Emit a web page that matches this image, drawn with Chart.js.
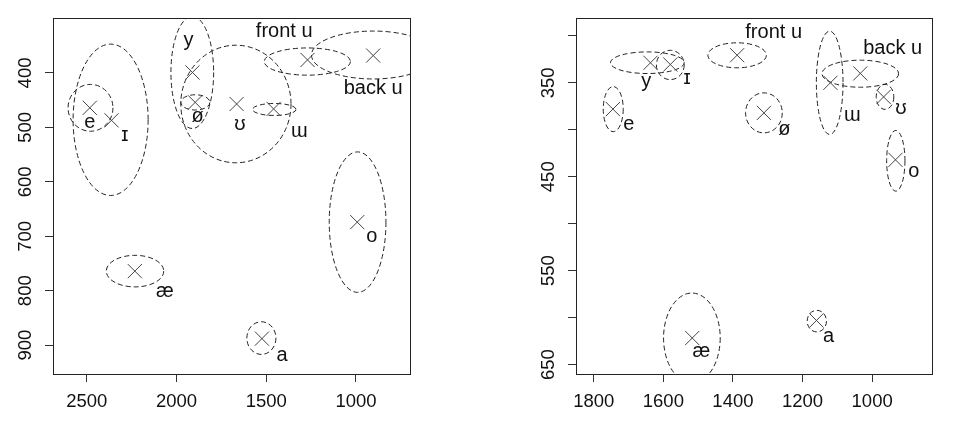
<!DOCTYPE html>
<html><head><meta charset="utf-8">
<script src="https://cdn.jsdelivr.net/npm/chart.js@4.4.1/dist/chart.umd.min.js"></script>
<style>
html,body{margin:0;padding:0;background:#fff;}
#wrap{display:flex;width:960px;height:424px;}
canvas{display:block;}
</style></head><body>
<div id="wrap"><canvas id="links" width="480" height="424"></canvas><canvas id="rechts" width="480" height="424"></canvas></div>
<script>
const vokale = ['e', 'ɪ', 'y', 'ø', 'ʊ', 'ɯ', 'front u', 'back u', 'o', 'æ', 'a'];

// linkes Diagramm: F2 (x), F1 (y)
const linksF2 = [2483, 2362, 1911, 1896, 1665, 1459, 1270, 904, 993, 2232, 1524];
const linksF1 = [464, 487, 399, 454, 457, 466, 376, 368, 674, 764, 888];
const linksEllF2 = [2479, 2367, 1912, 1895, 1669, 1455, 1271, 904, 991, 2231, 1527];
const linksEllF1 = [464, 486, 399, 454, 457, 467, 379, 367, 674, 764, 887];
const linksEllF2Halb = [125, 209, 119, 81, 307, 121, 240, 344, 158, 160, 81];
const linksEllF1Halb = [43, 139, 103, 14, 108, 11, 25, 44, 129, 29, 30];
const linksTextF2 = [2483, 2288, 1933, 1883, 1646, 1316, 1400, 904, 912, 2065, 1412];
const linksTextF1 = [492, 517, 342, 481, 497, 510, 325, 431, 702, 804, 920];
const linksXTicks = [2500, 2000, 1500, 1000];
const linksYTicks = [400, 500, 600, 700, 800, 900];
const linksYLabels = [400, 500, 600, 700, 800, 900];

// rechtes Diagramm
const rechtsF2 = [1745, 1580, 1637, 1311, 967, 1120, 1388, 1034, 933, 1517, 1160];
const rechtsF1 = [378, 330.5, 328.7, 382, 365, 350, 320.6, 340, 432, 621.7, 603];
const rechtsEllF2 = [1744, 1580, 1646, 1311, 963, 1122, 1388, 1034, 932, 1518, 1159];
const rechtsEllF1 = [378, 331, 328.6, 382, 365, 350, 320.7, 340.3, 433, 621.7, 603.7];
const rechtsEllF2Halb = [28.7, 40, 106, 52.7, 25.3, 38.3, 84, 110, 26.3, 81.4, 27.7];
const rechtsEllF1Halb = [24, 15.6, 11.5, 21.3, 13.3, 55, 13.3, 14.4, 32.3, 47.9, 11.5];
const rechtsTextF2 = [1699, 1532, 1649, 1252, 917, 1057, 1283, 941, 880, 1491, 1125];
const rechtsTextF1 = [395.4, 346.5, 350, 400.4, 378.4, 385.5, 298, 314.6, 445, 637.6, 620.6];
const rechtsXTicks = [1800, 1600, 1400, 1200, 1000];
const rechtsYTicks = [300, 350, 400, 450, 500, 550, 600, 650];
const rechtsYLabels = [350, 450, 550, 650];

const schrift = 'Liberation Sans, Arial, sans-serif';

// Rahmen, Ellipsen und Beschriftungen
const extras = {
    id: 'extras',
    beforeDatasetsDraw(chart, args, opts) {
        const c = chart.ctx, a = chart.chartArea;
        const sx = chart.scales.x, sy = chart.scales.y;
        c.save();
        c.beginPath();
        c.rect(a.left, a.top, a.right - a.left, a.bottom - a.top);
        c.clip();
        c.strokeStyle = '#222';
        c.lineWidth = 1;
        c.setLineDash([5, 3]);
        opts.ellX.forEach((x, i) => {
            const px = sx.getPixelForValue(x);
            const py = sy.getPixelForValue(opts.ellY[i]);
            const rx = Math.abs(sx.getPixelForValue(x + opts.ellRx[i]) - px);
            const ry = Math.abs(sy.getPixelForValue(opts.ellY[i] + opts.ellRy[i]) - py);
            c.beginPath();
            c.ellipse(px, py, rx, ry, 0, 0, Math.PI * 2);
            c.stroke();
        });
        c.restore();
    },
    afterDatasetsDraw(chart, args, opts) {
        const c = chart.ctx, a = chart.chartArea;
        const sx = chart.scales.x, sy = chart.scales.y;
        c.save();
        c.fillStyle = '#111';
        c.font = '20px ' + schrift;
        c.textAlign = 'center';
        c.textBaseline = 'middle';
        vokale.forEach((v, i) => {
            c.fillText(v, sx.getPixelForValue(opts.textX[i]), sy.getPixelForValue(opts.textY[i]) - 1);
        });
        c.strokeStyle = '#222';
        c.lineWidth = 1;
        c.strokeRect(Math.round(a.left) + 0.5, Math.round(a.top) + 0.5,
            Math.round(a.right - a.left), Math.round(a.bottom - a.top));
        c.restore();
    }
};

function diagramm(id, f2, f1, ellX, ellY, ellRx, ellRy, textX, textY,
                  xTicks, yTicks, yLabels, xMin, xMax, yMin, yMax, yBreite, rechtsRand) {
    return new Chart(document.getElementById(id), {
        type: 'scatter',
        data: {
            datasets: [{
                data: f2.map((x, i) => ({ x: x, y: f1[i] })),
                pointStyle: 'crossRot',
                radius: 10,
                borderColor: '#444',
                borderWidth: 1
            }]
        },
        options: {
            responsive: false,
            animation: false,
            events: [],
            layout: { padding: { top: 18, right: rechtsRand, left: 0, bottom: 0 } },
            plugins: {
                legend: { display: false },
                tooltip: { enabled: false },
                extras: { ellX, ellY, ellRx, ellRy, textX, textY }
            },
            scales: {
                x: {
                    type: 'linear',
                    reverse: true,
                    min: xMin,
                    max: xMax,
                    afterBuildTicks: s => { s.ticks = xTicks.map(v => ({ value: v })); },
                    afterFit: s => { s.height = 50; },
                    border: { display: false },
                    grid: { drawOnChartArea: false, drawTicks: true, tickLength: 8, color: '#333' },
                    ticks: {
                        color: '#111', padding: 9, maxRotation: 0,
                        font: { family: schrift, size: 18.5 },
                        callback: v => String(v)
                    }
                },
                y: {
                    type: 'linear',
                    reverse: true,
                    min: yMin,
                    max: yMax,
                    afterBuildTicks: s => { s.ticks = yTicks.map(v => ({ value: v })); },
                    afterFit: s => { s.width = yBreite; },
                    border: { display: false },
                    grid: { drawOnChartArea: false, drawTicks: true, tickLength: 8, color: '#333' },
                    ticks: {
                        color: '#111', padding: 4, minRotation: 90, maxRotation: 90, crossAlign: 'center',
                        font: { family: schrift, size: 18.5 },
                        callback: v => yLabels.includes(v) ? String(v) : ''
                    }
                }
            }
        },
        plugins: [extras]
    });
}

diagramm('links', linksF2, linksF1, linksEllF2, linksEllF1, linksEllF2Halb, linksEllF1Halb,
    linksTextF2, linksTextF1, linksXTicks, linksYTicks, linksYLabels, 699, 2688, 299, 953, 53, 70);
diagramm('rechts', rechtsF2, rechtsF1, rechtsEllF2, rechtsEllF1, rechtsEllF2Halb, rechtsEllF1Halb,
    rechtsTextF2, rechtsTextF1, rechtsXTicks, rechtsYTicks, rechtsYLabels, 828, 1851, 281, 660, 96, 28);
</script>
</body></html>
